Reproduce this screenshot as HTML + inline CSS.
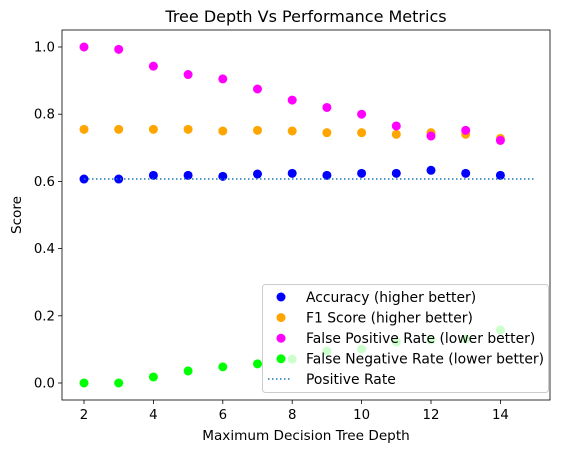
<!DOCTYPE html>
<html><head><meta charset="utf-8"><style>
body{margin:0;background:#fff;font-family:"Liberation Sans","DejaVu Sans",sans-serif}
svg text{font-family:"DejaVu Sans","Liberation Sans",sans-serif;fill:#000}
</style></head><body>
<svg id="c" width="567" height="453" xmlns="http://www.w3.org/2000/svg"></svg>
<script>
const depths=[2,3,4,5,6,7,8,9,10,11,12,13,14];
const accuracy=[0.607,0.607,0.618,0.618,0.615,0.622,0.624,0.618,0.624,0.624,0.633,0.624,0.618];
const f1=[0.755,0.755,0.755,0.755,0.75,0.752,0.75,0.745,0.745,0.74,0.745,0.74,0.728];
const fpr=[1.0,0.993,0.943,0.918,0.905,0.875,0.842,0.82,0.8,0.765,0.735,0.752,0.722];
const fnr=[0,0,0.018,0.036,0.048,0.057,0.071,0.095,0.101,0.122,0.128,0.131,0.158];
const positiveRate=0.607;
const lineRange=[2,15];
const xTicks=[2,4,6,8,10,12,14];
const yTicks=[0,0.2,0.4,0.6,0.8,1.0];
const NS="http://www.w3.org/2000/svg";
const svg=document.getElementById('c');
const L=62,R=550,T=30,B=400;
const X=v=>84+(v-2)*34.7;
const Y=v=>383-v*336;
function el(t,a,p){const e=document.createElementNS(NS,t);for(const k in a)e.setAttribute(k,a[k]);(p||svg).appendChild(e);return e;}
function txt(s,a){const e=el('text',a);e.textContent=s;return e;}
let t=txt('Tree Depth Vs Performance Metrics',{x:306,y:22,'text-anchor':'middle','font-size':16});

xTicks.forEach(v=>{const g=el('g',{});
el('line',{x1:X(v),x2:X(v),y1:B,y2:B+4,stroke:'#000','stroke-width':0.8},g);
const s=el('text',{x:X(v),y:B+19,'text-anchor':'middle','font-size':13.3},g);s.textContent=v;});
yTicks.forEach(v=>{const g=el('g',{});
el('line',{x1:L-4,x2:L,y1:Y(v),y2:Y(v),stroke:'#000','stroke-width':0.8},g);
const s=el('text',{x:L-7,y:Y(v)+4.5,'text-anchor':'end','font-size':13.3},g);s.textContent=v.toFixed(1);});
t=txt('Maximum Decision Tree Depth',{x:306,y:440,'text-anchor':'middle','font-size':13.6});

t=txt('Score',{x:21,y:215,'text-anchor':'middle','font-size':13.6,transform:'rotate(-90 21 215)'});

const series=[[accuracy,'#0000ff','accuracy'],[f1,'#ffa500','f1-score'],[fpr,'#ff00ff','false-positive-rate'],[fnr,'#00ff00','false-negative-rate']];
series.forEach(([d,c,n])=>{const g=el('g',{});
d.forEach((v,i)=>{const p=el('circle',{cx:X(depths[i]),cy:Y(v),r:4.5,fill:c},g);
});});
const pl=el('line',{x1:X(lineRange[0]),x2:X(lineRange[1]),y1:Y(positiveRate),y2:Y(positiveRate),stroke:'#1f77b4','stroke-width':1.5,'stroke-dasharray':'1.5,2.5'});

const fr=el('rect',{x:L,y:T,width:R-L,height:B-T,fill:'none',stroke:'#000','stroke-width':0.8});

const lg=el('g',{});
el('rect',{x:262.5,y:284.5,width:286,height:108,rx:3,fill:'#fff','fill-opacity':0.8,stroke:'#ccc'},lg);
const names=['Accuracy (higher better)','F1 Score (higher better)','False Positive Rate (lower better)','False Negative Rate (lower better)'];
names.forEach((n,i)=>{const y=297+i*20.6;const g=el('g',{},lg);
el('circle',{cx:281,cy:y,r:4.5,fill:series[i][1]},g);
const s=el('text',{x:306,y:y+4.8,'font-size':13.9},g);s.textContent=n;});
const g5=el('g',{},lg);
el('line',{x1:268,x2:292,y1:379,y2:379,stroke:'#1f77b4','stroke-width':1.5,'stroke-dasharray':'1.5,2.5'},g5);
const s5=el('text',{x:306,y:383.8,'font-size':13.9},g5);s5.textContent='Positive Rate';
</script>
</body></html>
